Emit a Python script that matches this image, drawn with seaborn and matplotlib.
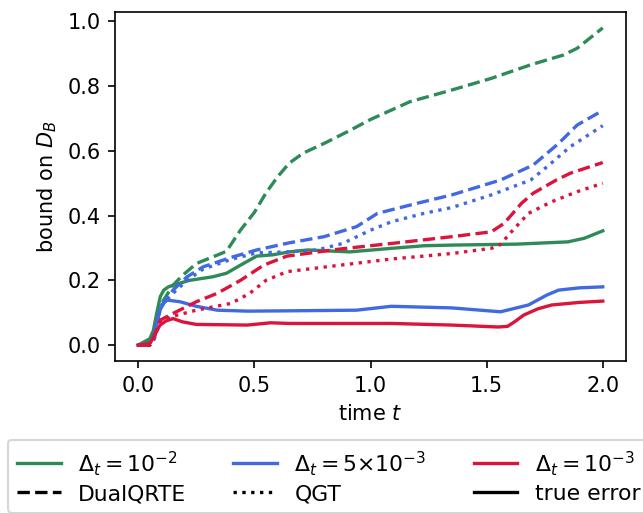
import numpy as np
import seaborn as sns
import matplotlib.pyplot as plt
from matplotlib.lines import Line2D

# step sizes and colours
dt_labels = [r'$\Delta_t = 10^{-2}$', r'$\Delta_t = 5{\times}10^{-3}$', r'$\Delta_t = 10^{-3}$']
dt_colors = ['#2E8B57', '#4169E1', '#DC143C']

# dt = 1e-2
t_dq_1 = [0, 0.04, 0.07, 0.09, 0.11, 0.15, 0.19, 0.25, 0.34, 0.38, 0.44, 0.50, 0.55, 0.60,
          0.65, 0.71, 0.80, 0.90, 1.0, 1.17, 1.35, 1.52, 1.69, 1.83, 1.89, 2.0]
v_dq_1 = [0, 0.01, 0.04, 0.11, 0.14, 0.185, 0.215, 0.252, 0.278, 0.29, 0.355, 0.41, 0.47, 0.52,
          0.562, 0.593, 0.623, 0.659, 0.697, 0.752, 0.788, 0.824, 0.866, 0.896, 0.917, 0.98]
t_te_1 = [0, 0.05, 0.065, 0.08, 0.095, 0.11, 0.13, 0.15, 0.22, 0.32, 0.38, 0.44, 0.51, 0.58,
          0.65, 0.73, 0.91, 1.09, 1.23, 1.35, 1.63, 1.85, 1.92, 2.0]
v_te_1 = [0, 0.02, 0.045, 0.10, 0.15, 0.17, 0.18, 0.185, 0.2, 0.211, 0.222, 0.247, 0.275, 0.279,
          0.288, 0.294, 0.288, 0.299, 0.307, 0.309, 0.312, 0.319, 0.33, 0.353]

# dt = 5e-3
t_dq_2 = [0, 0.05, 0.07, 0.094, 0.12, 0.15, 0.21, 0.28, 0.40, 0.51, 0.65, 0.80, 0.94, 1.03,
          1.2, 1.35, 1.56, 1.70, 1.81, 1.89, 2.0]
v_dq_2 = [0, 0.0, 0.02, 0.118, 0.14, 0.17, 0.211, 0.242, 0.271, 0.294, 0.316, 0.335, 0.366, 0.407,
          0.438, 0.464, 0.51, 0.556, 0.623, 0.68, 0.725]
t_qgt_2 = [0, 0.05, 0.07, 0.094, 0.11, 0.15, 0.21, 0.28, 0.40, 0.51, 0.64, 0.77, 0.88, 1.0,
           1.09, 1.23, 1.35, 1.52, 1.69, 1.76, 1.86, 2.0]
v_qgt_2 = [0, 0.0, 0.02, 0.11, 0.13, 0.16, 0.20, 0.235, 0.265, 0.285, 0.288, 0.294, 0.314, 0.355,
           0.381, 0.407, 0.425, 0.464, 0.51, 0.551, 0.613, 0.678]
t_te_2 = [0, 0.05, 0.065, 0.08, 0.095, 0.11, 0.125, 0.18, 0.25, 0.34, 0.47, 0.65, 0.94, 1.09,
          1.35, 1.56, 1.68, 1.76, 1.81, 1.9, 2.0]
v_te_2 = [0, 0.005, 0.026, 0.07, 0.11, 0.13, 0.139, 0.134, 0.12, 0.108, 0.105, 0.106, 0.108, 0.12,
          0.115, 0.103, 0.124, 0.155, 0.17, 0.177, 0.18]

# dt = 1e-3
t_dq_3 = [0, 0.05, 0.07, 0.094, 0.15, 0.25, 0.34, 0.44, 0.54, 0.64, 0.87, 1.09, 1.35, 1.52,
          1.575, 1.65, 1.70, 1.8, 1.86, 2.0]
v_dq_3 = [0, 0.0, 0.03, 0.077, 0.098, 0.134, 0.16, 0.2, 0.247, 0.275, 0.297, 0.314, 0.335, 0.35,
          0.376, 0.438, 0.469, 0.51, 0.531, 0.564]
t_qgt_3 = [0, 0.05, 0.07, 0.094, 0.137, 0.25, 0.40, 0.48, 0.55, 0.64, 0.87, 1.09, 1.35, 1.52,
           1.56, 1.60, 1.68, 1.78, 1.89, 2.0]
v_qgt_3 = [0, 0.0, 0.03, 0.07, 0.087, 0.108, 0.129, 0.16, 0.2, 0.227, 0.247, 0.266, 0.283, 0.299,
           0.311, 0.345, 0.407, 0.443, 0.474, 0.5]
t_te_3 = [0, 0.05, 0.07, 0.094, 0.12, 0.15, 0.19, 0.25, 0.47, 0.57, 0.65, 1.09, 1.35, 1.55, 1.59,
          1.62, 1.66, 1.72, 1.78, 1.9, 2.0]
v_te_3 = [0, 0.005, 0.03, 0.062, 0.075, 0.082, 0.072, 0.064, 0.062, 0.069, 0.067, 0.067, 0.062, 0.056,
          0.058, 0.072, 0.093, 0.112, 0.124, 0.132, 0.136]

curves = [
    [(t_dq_1, v_dq_1, '--'), (t_te_1, v_te_1, '-')],
    [(t_dq_2, v_dq_2, '--'), (t_qgt_2, v_qgt_2, ':'), (t_te_2, v_te_2, '-')],
    [(t_dq_3, v_dq_3, '--'), (t_qgt_3, v_qgt_3, ':'), (t_te_3, v_te_3, '-')],
]

DPI = 150
fig = plt.figure(figsize=(643 / DPI, 513 / DPI), dpi=DPI)
ax = fig.add_axes([115 / 643, 1 - 361 / 513, (626 - 115) / 643, (361 - 12) / 513])

for color, group in zip(dt_colors, curves):
    for t, v, ls in group:
        sns.lineplot(x=t, y=v, ax=ax, color=color, linestyle=ls, linewidth=1.6,
                     estimator=None, legend=False)

ax.set_xlabel('time $t$')
ax.set_ylabel('bound on $D_B$')
ax.set_xticks([0.0, 0.5, 1.0, 1.5, 2.0])
ax.set_yticks([0.0, 0.2, 0.4, 0.6, 0.8, 1.0])

style_labels = ['DualQRTE', 'QGT', 'true error']
style_ls = ['--', ':', '-']
# interleave so that ncol=3 gives colours on the first row and styles on the second
handles, labels = [], []
for i in range(3):
    handles += [Line2D([], [], color=dt_colors[i], linewidth=1.6),
                Line2D([], [], color='black', linestyle=style_ls[i], linewidth=1.6)]
    labels += [dt_labels[i], style_labels[i]]

fig.legend(handles, labels, ncol=3, loc='upper left',
           bbox_to_anchor=(8 / 643, 1 - 440 / 513), borderaxespad=0, fontsize=10.5,
           labelspacing=0.3, columnspacing=2.15)

fig.savefig('out.png', dpi=DPI)
